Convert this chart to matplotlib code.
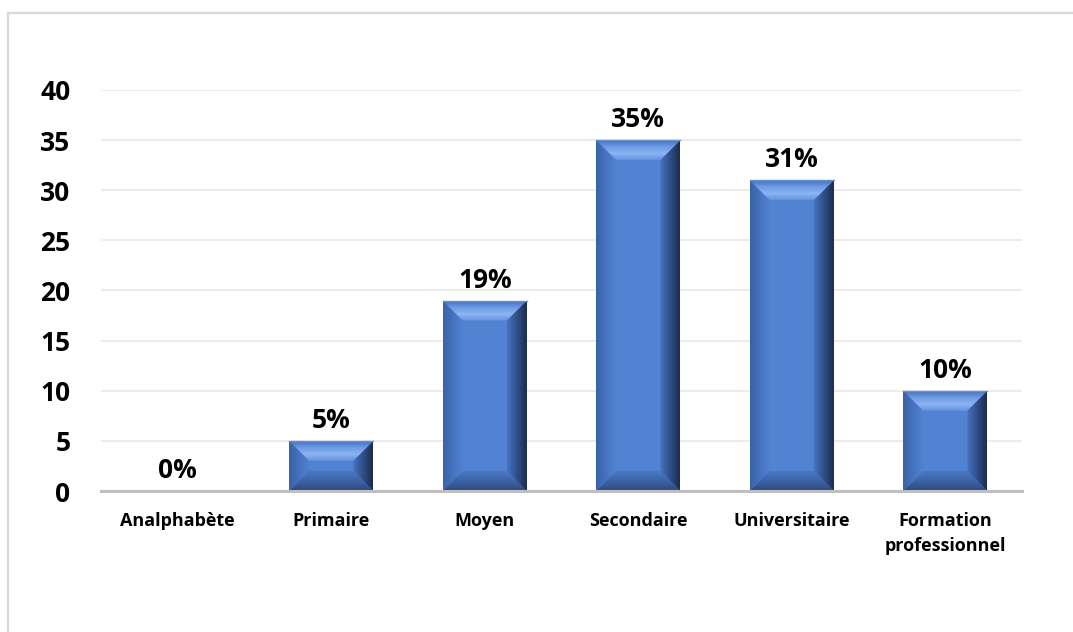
import numpy as np
import matplotlib.pyplot as plt
from matplotlib.colors import LinearSegmentedColormap
from matplotlib.patches import Polygon
from matplotlib.lines import Line2D

categories = ['Analphabète', 'Primaire', 'Moyen', 'Secondaire', 'Universitaire',
              'Formation\nprofessionnel']
values = [0, 5, 19, 35, 31, 10]
yticks = [0, 5, 10, 15, 20, 25, 30, 35, 40]

plt.rcParams['font.family'] = ['Open Sans', 'DejaVu Sans']
plt.rcParams['font.weight'] = 'bold'

fig = plt.figure(figsize=(10.73, 6.32), dpi=100)
ax = fig.add_axes([0.0941, 0.2231, 0.8584, 0.6345])

ax.set_xlim(-0.5, len(categories) - 0.5)
ax.set_ylim(0, 40)

# bevel shading for each face, outer edge -> inner edge
face = '#5282d2'
shades = {
    'top': ['#4272c0', '#6f9be6', '#8db5f4', '#6591de'],
    'bottom': ['#2c4a80', '#3e62a4', '#4b78c4'],
    'left': ['#3a62a6', '#4673c0', '#5182d0'],
    'right': ['#1c2c4c', '#2f4f8a', '#4774c0'],
}
cmaps = {k: LinearSegmentedColormap.from_list(k, v) for k, v in shades.items()}
grad = np.linspace(0, 1, 64)

bar_w = 0.55
bevel_px = 20
px_x = ax.transData.transform((1, 0))[0] - ax.transData.transform((0, 0))[0]
px_y = ax.transData.transform((0, 1))[1] - ax.transData.transform((0, 0))[1]


def shade(poly_pts, extent, cmap, vertical, flip):
    poly = Polygon(poly_pts, closed=True, facecolor='none', edgecolor='none')
    ax.add_patch(poly)
    g = grad[::-1] if flip else grad
    img = g.reshape(-1, 1) if vertical else g.reshape(1, -1)
    im = ax.imshow(img, cmap=cmap, extent=extent, origin='lower', aspect='auto',
                   interpolation='bilinear', zorder=3)
    im.set_clip_path(poly)


for i, v in enumerate(values):
    if v <= 0:
        continue
    L, R, B, T = i - bar_w / 2, i + bar_w / 2, 0, v
    d = min(bevel_px, bar_w * px_x / 2, v * px_y / 2)
    dx, dy = d / px_x, d / px_y
    ax.bar(i, v, width=bar_w, color=face, zorder=2)
    # top face: gradient runs downward from top edge
    shade([(L, T), (R, T), (R - dx, T - dy), (L + dx, T - dy)],
          (L, R, T - dy, T), cmaps['top'], True, True)
    # bottom face
    shade([(L, B), (R, B), (R - dx, B + dy), (L + dx, B + dy)],
          (L, R, B, B + dy), cmaps['bottom'], True, False)
    # left face
    shade([(L, B), (L, T), (L + dx, T - dy), (L + dx, B + dy)],
          (L, L + dx, B, T), cmaps['left'], False, False)
    # right face
    shade([(R, B), (R, T), (R - dx, T - dy), (R - dx, B + dy)],
          (R - dx, R, B, T), cmaps['right'], False, True)
    ax.plot([L, R], [T, T], color='#6a8fcc', lw=1, zorder=4)

for i, v in enumerate(values):
    ax.annotate(f'{v}%', (i, v), xytext=(0, 5), textcoords='offset points',
                ha='center', va='bottom', fontsize=19, fontweight='bold',
                color='black', zorder=5)

ax.set_xlim(-0.5, len(categories) - 0.5)
ax.set_ylim(0, 40)
ax.set_xticks(range(len(categories)))
ax.set_xticklabels(categories, fontsize=13, fontweight='bold', linespacing=1.5)
ax.set_yticks(yticks)
ax.set_yticklabels([str(t) for t in yticks], fontsize=19, fontweight='bold')
ax.tick_params(axis='x', length=0, pad=15)
ax.tick_params(axis='y', length=0, pad=22)

ax.grid(axis='y', color='#ececec', lw=1.5, zorder=0)
ax.set_axisbelow(True)
for s in ['top', 'right', 'left']:
    ax.spines[s].set_visible(False)
ax.spines['bottom'].set_color('#bfbfbf')
ax.spines['bottom'].set_linewidth(2.2)
ax.spines['bottom'].set_zorder(6)

# chart frame (left and top edges)
fig.add_artist(Line2D([7.5 / 1073, 7.5 / 1073], [0, 1 - 12.5 / 632],
                      color='#d9d9d9', lw=1.6, transform=fig.transFigure))
fig.add_artist(Line2D([7.5 / 1073, 1], [1 - 12.5 / 632, 1 - 12.5 / 632],
                      color='#d9d9d9', lw=1.6, transform=fig.transFigure))

fig.savefig('out.png', dpi=100)
